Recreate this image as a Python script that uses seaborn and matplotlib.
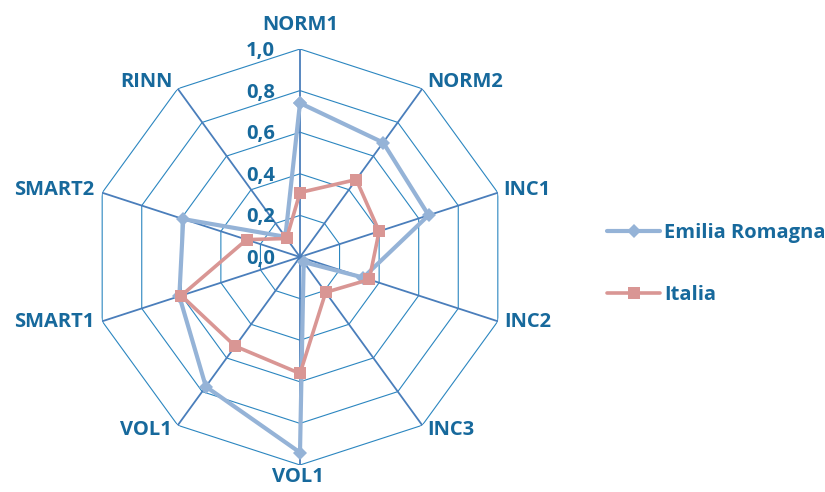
import numpy as np
import pandas as pd
import matplotlib
matplotlib.use('Agg')
import matplotlib.pyplot as plt
import seaborn as sns

# data
categories = ['NORM1', 'NORM2', 'INC1', 'INC2', 'INC3', 'VOL1', 'VOL1', 'SMART1', 'SMART2', 'RINN']
emilia = [0.74, 0.68, 0.65, 0.32, 0.03, 0.94, 0.77, 0.61, 0.59, 0.12]
italia = [0.31, 0.46, 0.40, 0.35, 0.21, 0.56, 0.53, 0.60, 0.27, 0.11]
r_ticks = [0.0, 0.2, 0.4, 0.6, 0.8, 1.0]
r_tick_labels = ['0,0', '0,2', '0,4', '0,6', '0,8', '1,0']

sns.set_style('white')
plt.rcParams['font.family'] = ['Open Sans', 'DejaVu Sans']

txt_color = '#17699c'
ring_color = '#2b86c0'
spoke_color = '#4a7ebb'
c_emilia = '#95b3d7'
c_italia = '#d99694'
fs = 14.5
px = 72 / 100  # pixels -> points

n = len(categories)
theta = np.linspace(0, 2 * np.pi, n, endpoint=False)
theta_closed = np.append(theta, 2 * np.pi)

fig = plt.figure(figsize=(8.25, 4.92), dpi=100)
ax = fig.add_axes([92 / 825, 27 / 492, 416 / 825, 416 / 492], projection='polar')
ax.set_theta_zero_location('N')
ax.set_theta_direction(-1)
ax.grid(False)
ax.spines['polar'].set_visible(False)
ax.set_xticks([])
ax.set_yticks([])

# decagon rings and spokes
for lev in r_ticks[1:]:
    ax.plot(theta_closed, [lev] * (n + 1), color=ring_color, lw=0.8, zorder=1)
for t in theta:
    ax.plot([t, t], [0, 1], color=spoke_color, lw=1.3, zorder=1)

df_em = pd.DataFrame({'theta': theta_closed, 'val': emilia + emilia[:1]})
df_it = pd.DataFrame({'theta': theta_closed, 'val': italia + italia[:1]})
sns.lineplot(data=df_em, x='theta', y='val', sort=False, ax=ax, color=c_emilia,
             lw=3.0, marker='D', markersize=7, markeredgewidth=0, label='Emilia Romagna', zorder=3)
sns.lineplot(data=df_it, x='theta', y='val', sort=False, ax=ax, color=c_italia,
             lw=2.6, marker='s', markersize=8.5, markeredgewidth=0, label='Italia', zorder=4)
ax.set_ylim(0, 1)
ax.set_xlabel('')
ax.set_ylabel('')

# category labels, placed just outside each outer vertex (offsets in px)
lab_pos = [('center', 0, 26), ('left', 5, 9), ('left', 5, 5), ('left', 6, 1), ('left', 5, -3),
           ('center', -2, -10), ('right', -6, -3), ('right', -8, 1), ('right', -8, 5), ('right', -5, 9)]
for t, lab, (ha, dx, dy) in zip(theta, categories, lab_pos):
    ax.annotate(lab, xy=(t, 1.0), xytext=(dx * px, (dy - 2) * px), textcoords='offset points',
                ha=ha, va='center', fontsize=fs, fontweight='bold', color=txt_color,
                annotation_clip=False)

# radial tick labels along the top spoke
for lev, lab in zip(r_ticks, r_tick_labels):
    ax.annotate(lab, xy=(0, lev), xytext=(-25 * px, -2 * px), textcoords='offset points',
                ha='right', va='center', fontsize=fs, fontweight='bold', color=txt_color)

ax.legend_.remove()
h, l = ax.get_legend_handles_labels()
leg = fig.legend(h, l, loc='center left', bbox_to_anchor=(599 / 825, 1 - 264 / 492),
                 frameon=False, fontsize=fs, handlelength=2.64, labelspacing=2.05,
                 handletextpad=0.2, borderaxespad=0)
for text in leg.get_texts():
    text.set_color(txt_color)
    text.set_fontweight('bold')

fig.savefig('out.png', dpi=100)
